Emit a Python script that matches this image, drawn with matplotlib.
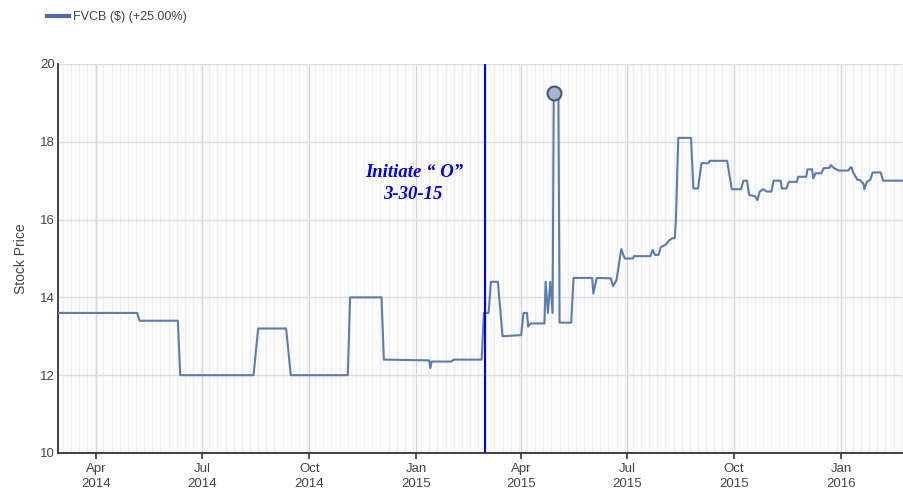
import matplotlib
matplotlib.use('Agg')
import matplotlib.pyplot as plt
import matplotlib.dates as mdates
import numpy as np
import pandas as pd

# price history (step-like daily closes)
dates = ['2014-02-27', '2014-05-06', '2014-05-08', '2014-06-10', '2014-06-12',
         '2014-08-14', '2014-08-18', '2014-09-11', '2014-09-15', '2014-11-03',
         '2014-11-05', '2014-12-02', '2014-12-04', '2015-01-12', '2015-01-13',
         '2015-01-14', '2015-01-31', '2015-02-02', '2015-02-26', '2015-02-28',
         '2015-03-04', '2015-03-06', '2015-03-12', '2015-03-16', '2015-04-01',
         '2015-04-03', '2015-04-06', '2015-04-07', '2015-04-09', '2015-04-21',
         '2015-04-22', '2015-04-24', '2015-04-26', '2015-04-28', '2015-04-29',
         '2015-05-03', '2015-05-04', '2015-05-14', '2015-05-16', '2015-06-01',
         '2015-06-02', '2015-06-05', '2015-06-17', '2015-06-19', '2015-06-22',
         '2015-06-26', '2015-06-29', '2015-07-06', '2015-07-07', '2015-07-21',
         '2015-07-23', '2015-07-25', '2015-07-28', '2015-07-30', '2015-08-03',
         '2015-08-06', '2015-08-09', '2015-08-11', '2015-08-12', '2015-08-14',
         '2015-08-25', '2015-08-27', '2015-08-31', '2015-09-03', '2015-09-09',
         '2015-09-10', '2015-09-25', '2015-09-29', '2015-10-07', '2015-10-09',
         '2015-10-12', '2015-10-14', '2015-10-19', '2015-10-21', '2015-10-23',
         '2015-10-26', '2015-10-29', '2015-11-02', '2015-11-04', '2015-11-10',
         '2015-11-11', '2015-11-15', '2015-11-17', '2015-11-24', '2015-11-25',
         '2015-12-02', '2015-12-03', '2015-12-07', '2015-12-08', '2015-12-10',
         '2015-12-15', '2015-12-17', '2015-12-22', '2015-12-23', '2015-12-26',
         '2015-12-30', '2016-01-07', '2016-01-09', '2016-01-10', '2016-01-11',
         '2016-01-15', '2016-01-17', '2016-01-20', '2016-01-21', '2016-01-23',
         '2016-01-26', '2016-01-28', '2016-02-04', '2016-02-06', '2016-02-24']
prices = [13.6, 13.6, 13.4, 13.4, 12.0,
          12.0, 13.2, 13.2, 12.0, 12.0,
          14.0, 14.0, 12.4, 12.38, 12.18,
          12.35, 12.35, 12.4, 12.4, 13.6,
          13.6, 14.4, 14.4, 13.0, 13.03,
          13.6, 13.6, 13.25, 13.33, 13.33,
          14.4, 13.6, 14.4, 13.6, 19.25,
          19.25, 13.35, 13.35, 14.5, 14.5,
          14.1, 14.5, 14.49, 14.29, 14.45,
          15.24, 15.0, 15.0, 15.06, 15.06,
          15.22, 15.09, 15.09, 15.29, 15.35,
          15.46, 15.52, 15.52, 16.0, 18.1,
          18.1, 16.8, 16.8, 17.45, 17.45,
          17.51, 17.51, 16.78, 16.78, 17.0,
          17.0, 16.63, 16.6, 16.5, 16.72,
          16.78, 16.72, 16.72, 17.0, 17.0,
          16.8, 16.8, 16.97, 16.97, 17.1,
          17.1, 17.29, 17.29, 17.06, 17.19,
          17.19, 17.32, 17.33, 17.4, 17.32,
          17.26, 17.26, 17.34, 17.34, 17.23,
          17.02, 17.02, 16.93, 16.78, 16.97,
          17.02, 17.21, 17.21, 17.0, 17.0]

peak_date = '2015-04-29'
peak_price = 19.25
event_date = '2015-03-01'
event_text = ['Initiate \u201c O\u201d', '3-30-15']
legend_label = 'FVCB ($) (+25.00%)'

x = pd.to_datetime(dates)
line_color = '#5b7cb1'
sans = ['Liberation Sans', 'DejaVu Sans']
serif = ['Liberation Serif', 'DejaVu Serif']

fig = plt.figure(figsize=(9.04, 4.92), dpi=100)
ax = fig.add_axes([0.0642, 0.0793, 0.9358, 0.7907])
ax.set_facecolor('#fbfbfb')

ax.plot(x, prices, color=line_color, lw=1.5, label=legend_label, zorder=3)
ax.plot(pd.to_datetime([peak_date]), [peak_price], 'o', ms=10,
        mfc='#a7b6cc', mec='#44597a', mew=1.5, zorder=4)

ax.axvline(pd.to_datetime(event_date), color='#0000ee', lw=1.5, zorder=5)
ax.text(pd.to_datetime('2014-12-30'), 17.2, event_text[0], color='#0000ee',
        fontsize=13.5, fontweight='bold', fontstyle='italic',
        family=serif, ha='center', va='center')
ax.text(pd.to_datetime('2014-12-29'), 16.64, event_text[1], color='#0000ee',
        fontsize=13.5, fontweight='bold', fontstyle='italic',
        family=serif, ha='center', va='center')

ax.set_xlim(pd.to_datetime('2014-02-27'), pd.to_datetime('2016-02-24'))
ax.set_ylim(10, 20)
ax.set_yticks(np.arange(10, 21, 2))

ax.xaxis.set_major_locator(mdates.MonthLocator(bymonth=[1, 4, 7, 10]))
ax.xaxis.set_major_formatter(mdates.DateFormatter('%b\n%Y'))
ax.xaxis.set_minor_locator(mdates.WeekdayLocator(byweekday=mdates.MO))

ax.grid(which='major', axis='x', color='#d6d6d6', lw=1.0, zorder=1)
ax.grid(which='minor', axis='x', color='#eeeeee', lw=0.8, zorder=1)
ax.grid(which='major', axis='y', color='#dedede', lw=1.0, zorder=1)
ax.set_axisbelow(True)

for s in ['top', 'right']:
    ax.spines[s].set_visible(False)
for s in ['left', 'bottom']:
    ax.spines[s].set_color('#333333')
    ax.spines[s].set_linewidth(1.3)

ax.tick_params(axis='x', which='major', length=4, width=1.2, color='#333333',
               labelsize=9.5, labelcolor='#444444', pad=3)
ax.tick_params(axis='x', which='minor', length=0)
ax.tick_params(axis='y', length=0, labelsize=9.5, labelcolor='#444444', pad=2)
for lab in ax.get_xticklabels():
    lab.set_linespacing(1.35)
    lab.set_family(sans)
for lab in ax.get_yticklabels():
    lab.set_family(sans)

ax.set_ylabel('Stock Price', fontsize=10, color='#444444',
              family=sans, labelpad=9)

leg = ax.legend(loc='upper left', bbox_to_anchor=(0.04, 1.0),
                bbox_transform=fig.transFigure, frameon=False,
                handlelength=1.7, handletextpad=0.35,
                prop={'family': sans, 'size': 9})
for h in leg.legend_handles:
    h.set_linewidth(3)
    h.set_color('#4d6ea5')
for t in leg.get_texts():
    t.set_color('#444444')

fig.savefig('out.png', dpi=100)
